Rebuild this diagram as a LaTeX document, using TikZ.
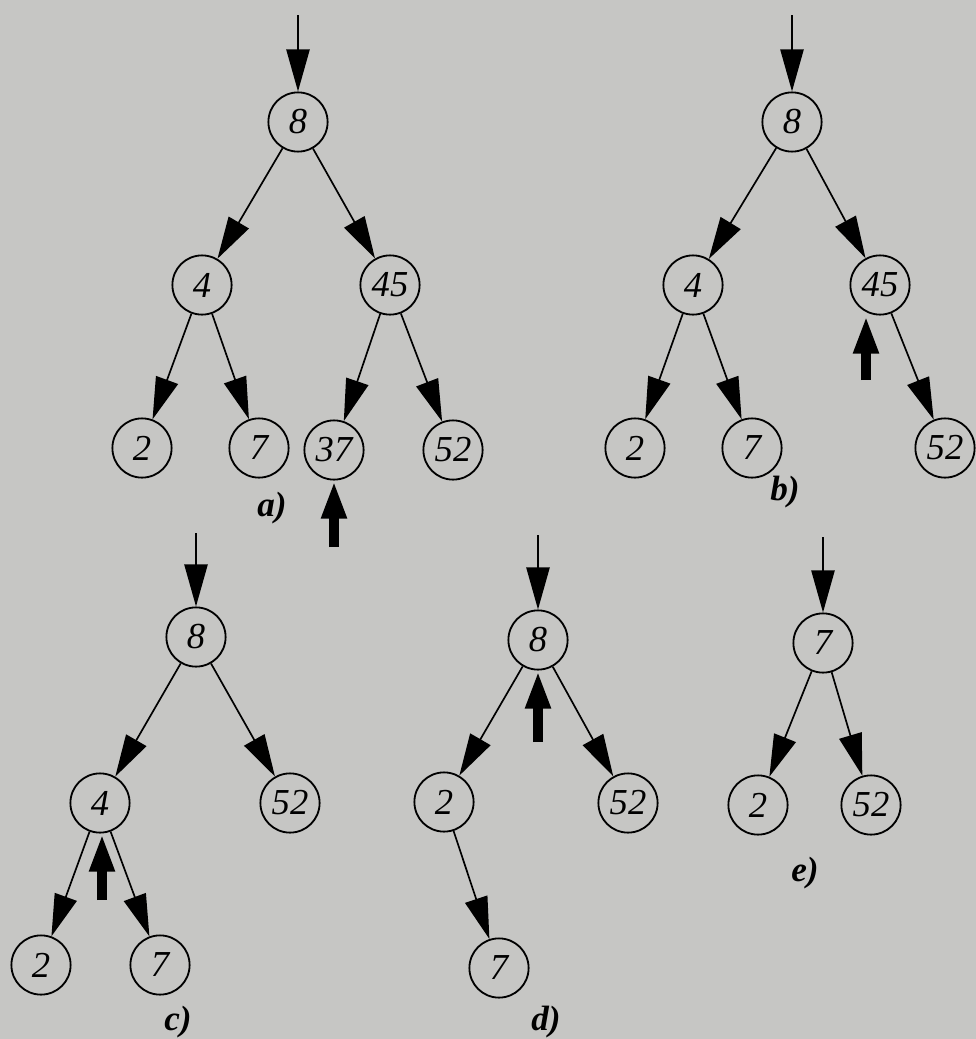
\documentclass[tikz,border=0pt]{standalone}
\usepackage{fontspec}
\setmainfont{Liberation Serif}
\usetikzlibrary{arrows.meta}
\definecolor{paper}{RGB}{198,198,196}
\tikzset{
  key/.style={circle,draw,line width=1.3pt,minimum size=1.48cm,inner sep=0pt,
    font=\fontsize{26}{28}\selectfont\itshape},
  edge/.style={line width=1.2pt,-{Triangle[length=1.05cm,width=0.58cm]}},
  bigup/.style={line width=7pt,-{Triangle[length=0.95cm,width=0.58cm]}},
  sublabel/.style={font=\fontsize{25}{28}\selectfont\bfseries\itshape}
}
\begin{document}
\begin{tikzpicture}[x=0.025cm,y=-0.025cm]
  % Papier
  \useasboundingbox (0,0) rectangle (975,1039);
  \fill[paper] (-10,-10) rectangle (985,1049);

  % a)
  \node[key] (ar) at (298,122) {8};
  \node[key] (a4) at (202,285) {4};
  \node[key] (a45) at (390,285) {45};
  \node[key] (a2) at (142,448) {2};
  \node[key] (a7) at (259,448) {7};
  \node[key] (a37) at (334,450) {37};
  \node[key] (a52) at (453,450) {52};
  \coordinate (ina) at (298,15);
  \coordinate (upa) at (334,547);
  \draw[edge] (ina) -- (ar);
  \draw[edge] (ar) -- (a4);
  \draw[edge] (ar) -- (a45);
  \draw[edge] (a4) -- (a2);
  \draw[edge] (a4) -- (a7);
  \draw[edge] (a45) -- (a37);
  \draw[edge] (a45) -- (a52);
  \draw[bigup] (upa) -- (a37);
  \node[sublabel] (la) at (272,508) {a)};

  % b)
  \node[key] (br) at (792,122) {8};
  \node[key] (b4) at (693,285) {4};
  \node[key] (b45) at (880,285) {45};
  \node[key] (b2) at (635,448) {2};
  \node[key] (b7) at (752,448) {7};
  \node[key] (b52) at (945,448) {52};
  \coordinate (inb) at (792,15);
  \coordinate (upb) at (866,380);
  \draw[edge] (inb) -- (br);
  \draw[edge] (br) -- (b4);
  \draw[edge] (br) -- (b45);
  \draw[edge] (b4) -- (b2);
  \draw[edge] (b4) -- (b7);
  \draw[edge] (b45) -- (b52);
  \draw[bigup] (upb) -- (upb |- b45.south);
  \node[sublabel] (lb) at (785,492) {b)};

  % c)
  \node[key] (cr) at (196,637) {8};
  \node[key] (c4) at (100,803) {4};
  \node[key] (c52) at (290,803) {52};
  \node[key] (c2) at (41,965) {2};
  \node[key] (c7) at (160,965) {7};
  \coordinate (inc) at (196,533);
  \coordinate (upc) at (102,900);
  \draw[edge] (inc) -- (cr);
  \draw[edge] (cr) -- (c4);
  \draw[edge] (cr) -- (c52);
  \draw[edge] (c4) -- (c2);
  \draw[edge] (c4) -- (c7);
  \draw[bigup] (upc) -- (upc |- c4.south);
  \node[sublabel] (lc) at (178,1022) {c)};

  % d)
  \node[key] (dr) at (538,640) {8};
  \node[key] (d2) at (444,802) {2};
  \node[key] (d52) at (628,803) {52};
  \node[key] (d7) at (499,968) {7};
  \coordinate (ind) at (538,535);
  \coordinate (upd) at (538,742);
  \draw[edge] (ind) -- (dr);
  \draw[edge] (dr) -- (d2);
  \draw[edge] (dr) -- (d52);
  \draw[edge] (d2) -- (d7);
  \draw[bigup] (upd) -- (dr);
  \node[sublabel] (ld) at (546,1022) {d)};

  % e)
  \node[key] (er) at (823,643) {7};
  \node[key] (e2) at (758,805) {2};
  \node[key] (e52) at (871,805) {52};
  \coordinate (ine) at (823,537);
  \draw[edge] (ine) -- (er);
  \draw[edge] (er) -- (e2);
  \draw[edge] (er) -- (e52);
  \node[sublabel] (le) at (805,873) {e)};
\end{tikzpicture}
\end{document}
